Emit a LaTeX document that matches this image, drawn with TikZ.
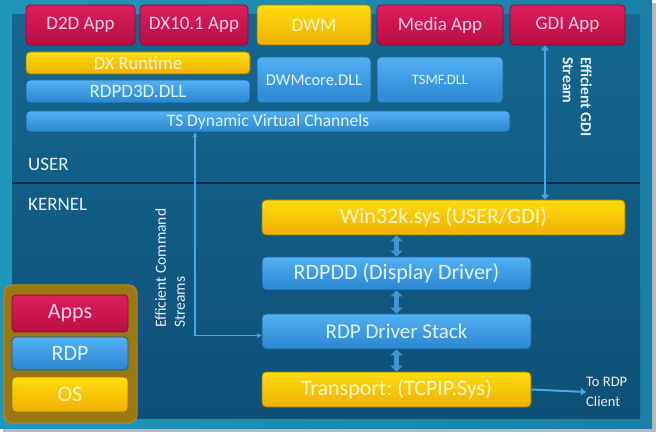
\documentclass[tikz,border=0pt]{standalone}
\usepackage{fontspec}
\setmainfont{Carlito}
\usetikzlibrary{arrows.meta}
\definecolor{redT}{HTML}{DC1E5C}
\definecolor{redB}{HTML}{B80E44}
\definecolor{redE}{HTML}{8A0A32}
\definecolor{redTx}{HTML}{FFD0E4}
\definecolor{yelT}{HTML}{FFDC10}
\definecolor{yelB}{HTML}{EEB000}
\definecolor{yelE}{HTML}{9C7400}
\definecolor{yelTx}{HTML}{FFF6C8}
\definecolor{bluT}{HTML}{52B0F2}
\definecolor{bluB}{HTML}{2A86D0}
\definecolor{bluE}{HTML}{1A5A92}
\definecolor{bluTx}{HTML}{E0F2FF}
\definecolor{outL}{HTML}{1E97BA}
\definecolor{outR}{HTML}{177FA8}
\definecolor{panT}{HTML}{15678F}
\definecolor{panB}{HTML}{0E5078}
\definecolor{sepC}{HTML}{0A2A42}
\definecolor{arrC}{HTML}{4CA6E6}
\definecolor{fatC}{HTML}{4296D8}
\definecolor{legC}{HTML}{9A7812}
\definecolor{legE}{HTML}{B48E22}
\definecolor{lblC}{HTML}{E6F2FA}
\tikzset{
  box/.style={rounded corners=4pt, draw, line width=0.8pt, inner sep=0pt, align=center},
  redbox/.style={box, draw=redE, top color=redT, bottom color=redB, text=redTx},
  yelbox/.style={box, draw=yelE, top color=yelT, bottom color=yelB, text=yelTx},
  blubox/.style={box, draw=bluE, top color=bluT, bottom color=bluB, text=bluTx},
  big/.style={font=\fontsize{19}{21}\selectfont},
  kbig/.style={font=\fontsize{22}{24}\selectfont},
  mid/.style={font=\fontsize{19}{21}\selectfont},
  lbl/.style={text=lblC, inner sep=0pt},
  gdiarrow/.style={draw=arrC, line width=2.5pt, {Triangle[width=8pt,length=5pt]}-{Triangle[width=8pt,length=5pt]}},
  fatarrow/.style={draw=fatC, line width=5pt, {Triangle[width=12pt,length=6pt]}-{Triangle[width=12pt,length=6pt]}},
  cmdline/.style={draw=arrC, line width=1.3pt, {Stealth[width=5pt,length=5pt]}-{Stealth[width=5pt,length=5pt]}},
}
\begin{document}
\frenchspacing
\begin{tikzpicture}[x=1pt,y=-1pt]
\useasboundingbox (0,0) rectangle (661,435);
% background and frame
\fill[white] (0,0) rectangle (661,435);
\fill[gray!55] (3,3) rectangle (656,432);
\shade[left color=outL, right color=outR] (0,0) rectangle (652,428);
\shade[top color=panT, bottom color=panB] (12,15) rectangle (640,418);
% separator
\draw[sepC, line width=2pt] (12,183) -- (640,183);
% USER level
\node[redbox, big, minimum width=109pt, minimum height=40pt] (d2d) at (80.5,25) {D2D App};
\node[redbox, big, minimum width=108pt, minimum height=40pt] (dx10) at (194,25) {DX10.1 App};
\node[yelbox, big, minimum width=114pt, minimum height=40pt] (dwm) at (314,25) {DWM};
\node[redbox, big, minimum width=126pt, minimum height=40pt] (media) at (440,25) {Media App};
\node[redbox, big, minimum width=115pt, minimum height=40pt] (gdi) at (567.5,25) {GDI App};
\node[yelbox, font=\fontsize{18.5}{20}\selectfont, minimum width=224pt, minimum height=22pt] (dxrt) at (138,63) {DX Runtime};
\node[blubox, font=\fontsize{19}{20}\selectfont, minimum width=224pt, minimum height=23pt] (d3d) at (138,91.5) {RDPD3D.DLL};
\node[blubox, font=\fontsize{16.5}{18}\selectfont, minimum width=114pt, minimum height=46pt] (dwmcore) at (314,80) {DWMcore.DLL};
\node[blubox, font=\fontsize{14.5}{16}\selectfont, minimum width=126pt, minimum height=46pt] (tsmf) at (440,80) {TSMF.DLL};
\node[blubox, font=\fontsize{17.5}{18}\selectfont, minimum width=484pt, minimum height=21pt] (tsdvc) at (268,121.5) {TS Dynamic Virtual Channels};
\node[lbl, mid, anchor=west] (user) at (28,164) {USER};
\node[lbl, mid, anchor=west] (kernel) at (28,204) {KERNEL};
% KERNEL level
\node[yelbox, kbig, minimum width=363pt, minimum height=35pt] (win) at (443.5,217.5) {Win32k.sys (USER/GDI)};
\node[blubox, kbig, minimum width=269pt, minimum height=33pt] (rdpdd) at (396.5,273.5) {RDPDD (Display Driver)};
\node[blubox, font=\fontsize{21}{23}\selectfont, minimum width=269pt, minimum height=35pt] (stack) at (396.5,331.5) {RDP Driver Stack};
\node[yelbox, kbig, minimum width=269pt, minimum height=35pt] (trans) at (396.5,389.5) {Transport: (TCPIP.Sys)};
\node[lbl, font=\fontsize{14.5}{20}\selectfont, align=left, anchor=west] (client) at (586,392) {To RDP\\Client};
% legend
\node[rounded corners=8pt, fill=legC, draw=legE, line width=1pt, minimum width=133pt, minimum height=138pt] (legend) at (70.5,354) {};
\node[redbox, kbig, minimum width=116pt, minimum height=37pt] (apps) at (70,313.5) {Apps};
\node[blubox, kbig, minimum width=116pt, minimum height=33pt] (rdp) at (70,353.5) {RDP};
\node[yelbox, kbig, minimum width=116pt, minimum height=35pt] (os) at (70,394.5) {OS};
% stream labels
\node[lbl, font=\fontsize{15.5}{19}\selectfont, align=left, rotate=90, anchor=north west] (cmdtxt) at (155,328) {Efficient Command\\Streams};
\node[lbl, font=\bfseries\fontsize{15.5}{18}\selectfont, align=left, rotate=-90, anchor=north west] (gditxt) at (592,57) {Efficient GDI\\Stream};
% connectors
\coordinate (gx) at (545,0);
\coordinate (cx) at (195,0);
\coordinate (cs) at ([yshift=-4pt]stack.west);
\draw[gdiarrow] (gx |- gdi.south) -- (gx |- win.north);
\draw[fatarrow] (win.south -| rdpdd.north) -- (rdpdd.north);
\draw[fatarrow] (rdpdd.south) -- (stack.north);
\draw[fatarrow] (stack.south) -- (trans.north);
\draw[cmdline] (cx |- tsdvc.south) -- (cx |- cs) -- (cs);
\draw[draw=arrC, line width=2pt, -{Triangle[width=7pt,length=5pt]}] (trans.east) -- (client.west);
\end{tikzpicture}
\end{document}
